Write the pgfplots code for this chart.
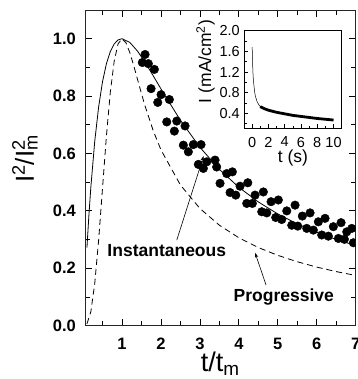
\documentclass[border=0pt]{standalone}
\usepackage{fontspec}
\setmainfont{Liberation Sans}
\usepackage{pgfplots}
\pgfplotsset{compat=1.18}
\usetikzlibrary{arrows.meta}

\begin{document}
\begin{tikzpicture}
\begin{axis}[name=main, at={(0pt,0pt)}, anchor=south west,
  scale only axis, width=270.7pt, height=315.7pt,
  xmin=0.05, xmax=7, ymin=0, ymax=1.1,
  xtick={1,2,3,4,5,6,7}, minor xtick={0.5,1.5,2.5,3.5,4.5,5.5,6.5},
  ytick={0,0.2,0.4,0.6,0.8,1.0}, minor ytick={0.1,0.3,0.5,0.7,0.9},
  tick align=inside, major tick length=7pt, minor tick length=5pt,
  axis line style={line width=0.8pt, black!85},
  every tick/.style={line width=0.8pt, black},
  /pgf/number format/assume math mode=true,
  xticklabel style={font=\fontsize{16.5}{18}\selectfont\bfseries, inner sep=0pt, anchor=north, yshift=-12pt},
  yticklabel style={font=\fontsize{16.5}{18}\selectfont\bfseries, inner sep=0pt, anchor=east, xshift=-9pt,
    /pgf/number format/fixed, /pgf/number format/fixed zerofill, /pgf/number format/precision=1},
  xlabel={t/t\textsubscript{m}},
  ylabel={I\textsuperscript{2}/I\rlap{\textsubscript{m}}\textsuperscript{2}},
  xlabel style={font=\fontsize{27}{30}\selectfont, at={(axis description cs:0.5,-0.082)}, anchor=north, inner sep=0pt},
  ylabel style={font=\fontsize{26}{29}\selectfont, at={(axis description cs:-0.174,0.52)}, anchor=south, inner sep=0pt},
  clip marker paths=true,
]
% instantaneous nucleation (solid)
\addplot[black, line width=0.8pt] coordinates {
(0.1,0.2724)(0.15,0.3843)(0.2,0.4825)(0.3,0.6423)(0.4,0.7623)(0.5,0.8504)
(0.6,0.9130)(0.7,0.9554)(0.8,0.9819)(0.9,0.9958)(1.0,1.0000)(1.2,0.9871)
(1.4,0.9564)(1.6,0.9161)(1.8,0.8712)(2.0,0.8251)(2.5,0.7156)(3.0,0.6217)
(3.5,0.5447)(4.0,0.4822)(4.5,0.4312)(5.0,0.3894)(5.5,0.3546)(6.0,0.3254)
(6.5,0.3005)(7.0,0.2791)};
% progressive nucleation (dashed)
\addplot[black, line width=0.8pt, dash pattern=on 6pt off 4pt] coordinates {
(0.1,0.0065)(0.2,0.0488)(0.3,0.1469)(0.4,0.2981)(0.5,0.4797)(0.6,0.6608)
(0.7,0.8137)(0.8,0.9221)(0.9,0.9822)(1.0,1.0000)(1.1,0.9861)(1.2,0.9518)
(1.3,0.9066)(1.4,0.8574)(1.5,0.8085)(1.6,0.7620)(1.8,0.6801)(2.0,0.6127)
(2.5,0.4902)(3.0,0.4085)(3.5,0.3501)(4.0,0.3064)(4.5,0.2723)(5.0,0.2451)
(5.5,0.2228)(6.0,0.2042)(6.5,0.1885)(7.0,0.1751)};
% experimental
\addplot[only marks, mark=*, mark size=4.3pt, black] coordinates {
(1.522,0.917)(1.592,0.945)(1.676,0.913)(1.746,0.826)(1.831,0.893)
(1.918,0.778)(2.003,0.805)(2.149,0.710)(2.216,0.788)(2.344,0.678)
(2.406,0.713)(2.575,0.629)(2.619,0.696)(2.703,0.606)(2.832,0.631)
(2.960,0.562)(3.029,0.631)(3.089,0.548)(3.176,0.571)(3.389,0.577)
(3.430,0.553)(3.517,0.496)(3.689,0.530)(3.774,0.464)(3.833,0.536)
(3.920,0.455)(4.031,0.486)(4.203,0.426)(4.229,0.498)(4.347,0.426)
(4.416,0.455)(4.588,0.397)(4.629,0.466)(4.716,0.393)(4.827,0.432)
(4.947,0.377)(5.014,0.438)(5.101,0.370)(5.230,0.400)(5.358,0.350)
(5.443,0.420)(5.512,0.347)(5.630,0.382)(5.743,0.339)(5.828,0.393)
(5.913,0.333)(6.041,0.362)(6.128,0.316)(6.213,0.374)(6.298,0.312)
(6.426,0.345)(6.555,0.304)(6.624,0.359)(6.709,0.301)(6.770,0.327)
(6.899,0.339)(6.940,0.289)};
\node[font=\fontsize{17.5}{19}\selectfont\bfseries, inner sep=0pt] at (axis cs:2.15,0.263) {Instantaneous};
\draw[-{Stealth[length=5pt,width=3.5pt]}, line width=0.6pt] (axis cs:2.406,0.298) -- (axis cs:3.094,0.591);
\node[font=\fontsize{17.5}{19}\selectfont\bfseries, inner sep=0pt] at (axis cs:5.155,0.101) {Progressive};
\draw[-{Stealth[length=5pt,width=3.5pt]}, line width=0.6pt] (axis cs:4.698,0.142) -- (axis cs:4.416,0.254);
\end{axis}

\begin{axis}[at={(159pt,197.4pt)}, anchor=south west,
  scale only axis, width=97.7pt, height=97.6pt,
  xmin=-1, xmax=11, ymin=0.11, ymax=2.0,
  xtick={0,2,4,6,8,10}, minor xtick={1,3,5,7,9},
  ytick={0.4,0.8,1.2,1.6,2.0}, minor ytick={0.2,0.6,1.0,1.4,1.8},
  xtick pos=bottom, ytick pos=left,
  tick align=inside, major tick length=4pt, minor tick length=2.5pt,
  axis line style={line width=0.7pt, black},
  every tick/.style={line width=0.6pt, black},
  axis background/.style={fill=white},
  /pgf/number format/assume math mode=true,
  xticklabel style={font=\fontsize{14.5}{16}\selectfont, inner sep=0pt, anchor=north, yshift=-8.4pt},
  yticklabel style={font=\fontsize{14.5}{16}\selectfont, inner sep=0pt, anchor=east, xshift=-4pt,
    /pgf/number format/fixed, /pgf/number format/fixed zerofill, /pgf/number format/precision=1},
  xlabel={t (s)},
  ylabel={I (mA/cm\textsuperscript{2})},
  xlabel style={font=\fontsize{17.5}{19}\selectfont, at={(axis description cs:0.5,-0.222)}, anchor=north, inner sep=0pt},
  ylabel style={font=\fontsize{17.5}{19}\selectfont, at={(axis description cs:-0.297,0.684)}, anchor=south, inner sep=0pt},
]
\addplot[black, line width=0.5pt] coordinates {
(0.0,1.68)(0.03,1.55)(0.06,1.35)(0.1,1.18)(0.15,1.05)(0.2,0.97)(0.3,0.82)
(0.4,0.73)(0.6,0.63)(0.8,0.57)(1.0,0.53)(1.2,0.51)};
\addplot[black, line width=2.8pt] coordinates {
(1.0,0.53)(1.5,0.49)(2,0.46)(3,0.42)(4,0.39)(5,0.36)(6,0.34)(7,0.32)
(8,0.30)(9,0.285)(10,0.27)};
\end{axis}
\pgfresetboundingbox
\useasboundingbox (-85pt,-53.3pt) rectangle (272pt,325.7pt);
\end{tikzpicture}
\end{document}
